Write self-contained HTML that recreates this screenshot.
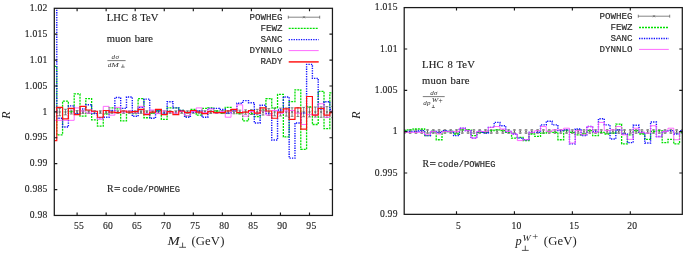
<!DOCTYPE html><html><head><meta charset="utf-8"><title>R ratio plots</title>
<style>
html,body{margin:0;padding:0;background:#fff;}
body{width:685px;height:258px;overflow:hidden;position:relative;font-family:"Liberation Serif",serif;}
svg{position:absolute;left:0;top:0;will-change:transform;}
text{font-family:"Liberation Serif",serif;fill:#222;}
.tk{font-size:9.6px;letter-spacing:0.25px;stroke:#222;stroke-width:0.13px;}
.mono{font-family:"Liberation Mono",monospace;font-size:9.2px;font-weight:normal;fill:#2a2a2a;stroke:#2a2a2a;stroke-width:0.16px;}
.lab{font-size:10.6px;letter-spacing:0.05px;word-spacing:0.8px;stroke:#222;stroke-width:0.15px;}
.ax{font-size:12.4px;}
.it{font-style:italic;}
.fr{font-size:7px;letter-spacing:0.35px;fill:#333;}
</style></head><body>
<svg width="685" height="258" viewBox="0 0 685 258">
<rect x="0" y="0" width="685" height="258" fill="#fff"/>
<defs>
<clipPath id="cl"><rect x="54.30" y="8.30" width="278.15" height="207.15"/></clipPath>
<clipPath id="cr"><rect x="404.20" y="7.60" width="278.10" height="206.75"/></clipPath>
</defs>
<g clip-path="url(#cl)" fill="none" stroke-linejoin="miter">
<path d="M53.86 107.39 V116.71 M52.46 107.39 h2.80 M52.46 116.71 h2.80 M59.67 108.37 V115.73 M58.27 108.37 h2.80 M58.27 115.73 h2.80 M65.48 109.25 V114.85 M64.08 109.25 h2.80 M64.08 114.85 h2.80 M71.29 110.08 V114.02 M69.89 110.08 h2.80 M69.89 114.02 h2.80 M77.10 110.50 V113.60 M75.70 110.50 h2.80 M75.70 113.60 h2.80 M82.91 110.65 V113.45 M81.51 110.65 h2.80 M81.51 113.45 h2.80 M88.72 110.69 V113.41 M87.32 110.69 h2.80 M87.32 113.41 h2.80 M94.53 110.72 V113.38 M93.13 110.72 h2.80 M93.13 113.38 h2.80 M100.34 110.75 V113.34 M98.94 110.75 h2.80 M98.94 113.34 h2.80 M106.15 110.76 V113.34 M104.75 110.76 h2.80 M104.75 113.34 h2.80 M111.96 110.76 V113.34 M110.56 110.76 h2.80 M110.56 113.34 h2.80 M117.77 110.76 V113.34 M116.37 110.76 h2.80 M116.37 113.34 h2.80 M123.58 110.77 V113.33 M122.18 110.77 h2.80 M122.18 113.33 h2.80 M129.39 110.77 V113.33 M127.99 110.77 h2.80 M127.99 113.33 h2.80 M135.20 110.77 V113.33 M133.80 110.77 h2.80 M133.80 113.33 h2.80 M141.01 110.78 V113.32 M139.61 110.78 h2.80 M139.61 113.32 h2.80 M146.82 110.78 V113.32 M145.42 110.78 h2.80 M145.42 113.32 h2.80 M152.63 110.78 V113.32 M151.23 110.78 h2.80 M151.23 113.32 h2.80 M158.44 110.79 V113.31 M157.04 110.79 h2.80 M157.04 113.31 h2.80 M164.25 110.79 V113.31 M162.85 110.79 h2.80 M162.85 113.31 h2.80 M170.06 110.79 V113.31 M168.66 110.79 h2.80 M168.66 113.31 h2.80 M175.87 110.80 V113.30 M174.47 110.80 h2.80 M174.47 113.30 h2.80 M181.68 110.80 V113.30 M180.28 110.80 h2.80 M180.28 113.30 h2.80 M187.49 110.80 V113.30 M186.09 110.80 h2.80 M186.09 113.30 h2.80 M193.30 110.81 V113.29 M191.90 110.81 h2.80 M191.90 113.29 h2.80 M199.11 110.77 V113.33 M197.71 110.77 h2.80 M197.71 113.33 h2.80 M204.92 110.73 V113.37 M203.52 110.73 h2.80 M203.52 113.37 h2.80 M210.73 110.69 V113.41 M209.33 110.69 h2.80 M209.33 113.41 h2.80 M216.54 110.65 V113.45 M215.14 110.65 h2.80 M215.14 113.45 h2.80 M222.35 110.57 V113.53 M220.95 110.57 h2.80 M220.95 113.53 h2.80 M228.16 110.50 V113.60 M226.76 110.50 h2.80 M226.76 113.60 h2.80 M233.97 110.31 V113.79 M232.57 110.31 h2.80 M232.57 113.79 h2.80 M239.78 110.13 V113.97 M238.38 110.13 h2.80 M238.38 113.97 h2.80 M245.59 109.87 V114.23 M244.19 109.87 h2.80 M244.19 114.23 h2.80 M251.40 109.62 V114.48 M250.00 109.62 h2.80 M250.00 114.48 h2.80 M257.21 109.33 V114.77 M255.81 109.33 h2.80 M255.81 114.77 h2.80 M263.02 109.05 V115.05 M261.62 109.05 h2.80 M261.62 115.05 h2.80 M268.83 108.66 V115.44 M267.43 108.66 h2.80 M267.43 115.44 h2.80 M274.64 108.27 V115.83 M273.24 108.27 h2.80 M273.24 115.83 h2.80 M280.45 108.11 V115.99 M279.05 108.11 h2.80 M279.05 115.99 h2.80 M286.26 107.96 V116.14 M284.86 107.96 h2.80 M284.86 116.14 h2.80 M292.07 107.77 V116.33 M290.67 107.77 h2.80 M290.67 116.33 h2.80 M297.88 107.58 V116.52 M296.48 107.58 h2.80 M296.48 116.52 h2.80 M303.69 107.39 V116.71 M302.29 107.39 h2.80 M302.29 116.71 h2.80 M309.50 107.19 V116.91 M308.10 107.19 h2.80 M308.10 116.91 h2.80 M315.31 107.00 V117.10 M313.91 107.00 h2.80 M313.91 117.10 h2.80 M321.12 106.81 V117.29 M319.72 106.81 h2.80 M319.72 117.29 h2.80 M326.93 106.61 V117.49 M325.53 106.61 h2.80 M325.53 117.49 h2.80 M332.74 106.46 V117.64 M331.34 106.46 h2.80 M331.34 117.64 h2.80 " stroke="#505050" stroke-width="0.7"/>
<path d="M52.76 110.95 l2.20 2.20 M52.76 113.15 l2.20 -2.20 M58.57 110.95 l2.20 2.20 M58.57 113.15 l2.20 -2.20 M64.38 110.95 l2.20 2.20 M64.38 113.15 l2.20 -2.20 M70.19 110.95 l2.20 2.20 M70.19 113.15 l2.20 -2.20 M76.00 110.95 l2.20 2.20 M76.00 113.15 l2.20 -2.20 M81.81 110.95 l2.20 2.20 M81.81 113.15 l2.20 -2.20 M87.62 110.95 l2.20 2.20 M87.62 113.15 l2.20 -2.20 M93.43 110.95 l2.20 2.20 M93.43 113.15 l2.20 -2.20 M99.24 110.95 l2.20 2.20 M99.24 113.15 l2.20 -2.20 M105.05 110.95 l2.20 2.20 M105.05 113.15 l2.20 -2.20 M110.86 110.95 l2.20 2.20 M110.86 113.15 l2.20 -2.20 M116.67 110.95 l2.20 2.20 M116.67 113.15 l2.20 -2.20 M122.48 110.95 l2.20 2.20 M122.48 113.15 l2.20 -2.20 M128.29 110.95 l2.20 2.20 M128.29 113.15 l2.20 -2.20 M134.10 110.95 l2.20 2.20 M134.10 113.15 l2.20 -2.20 M139.91 110.95 l2.20 2.20 M139.91 113.15 l2.20 -2.20 M145.72 110.95 l2.20 2.20 M145.72 113.15 l2.20 -2.20 M151.53 110.95 l2.20 2.20 M151.53 113.15 l2.20 -2.20 M157.34 110.95 l2.20 2.20 M157.34 113.15 l2.20 -2.20 M163.15 110.95 l2.20 2.20 M163.15 113.15 l2.20 -2.20 M168.96 110.95 l2.20 2.20 M168.96 113.15 l2.20 -2.20 M174.77 110.95 l2.20 2.20 M174.77 113.15 l2.20 -2.20 M180.58 110.95 l2.20 2.20 M180.58 113.15 l2.20 -2.20 M186.39 110.95 l2.20 2.20 M186.39 113.15 l2.20 -2.20 M192.20 110.95 l2.20 2.20 M192.20 113.15 l2.20 -2.20 M198.01 110.95 l2.20 2.20 M198.01 113.15 l2.20 -2.20 M203.82 110.95 l2.20 2.20 M203.82 113.15 l2.20 -2.20 M209.63 110.95 l2.20 2.20 M209.63 113.15 l2.20 -2.20 M215.44 110.95 l2.20 2.20 M215.44 113.15 l2.20 -2.20 M221.25 110.95 l2.20 2.20 M221.25 113.15 l2.20 -2.20 M227.06 110.95 l2.20 2.20 M227.06 113.15 l2.20 -2.20 M232.87 110.95 l2.20 2.20 M232.87 113.15 l2.20 -2.20 M238.68 110.95 l2.20 2.20 M238.68 113.15 l2.20 -2.20 M244.49 110.95 l2.20 2.20 M244.49 113.15 l2.20 -2.20 M250.30 110.95 l2.20 2.20 M250.30 113.15 l2.20 -2.20 M256.11 110.95 l2.20 2.20 M256.11 113.15 l2.20 -2.20 M261.92 110.95 l2.20 2.20 M261.92 113.15 l2.20 -2.20 M267.73 110.95 l2.20 2.20 M267.73 113.15 l2.20 -2.20 M273.54 110.95 l2.20 2.20 M273.54 113.15 l2.20 -2.20 M279.35 110.95 l2.20 2.20 M279.35 113.15 l2.20 -2.20 M285.16 110.95 l2.20 2.20 M285.16 113.15 l2.20 -2.20 M290.97 110.95 l2.20 2.20 M290.97 113.15 l2.20 -2.20 M296.78 110.95 l2.20 2.20 M296.78 113.15 l2.20 -2.20 M302.59 110.95 l2.20 2.20 M302.59 113.15 l2.20 -2.20 M308.40 110.95 l2.20 2.20 M308.40 113.15 l2.20 -2.20 M314.21 110.95 l2.20 2.20 M314.21 113.15 l2.20 -2.20 M320.02 110.95 l2.20 2.20 M320.02 113.15 l2.20 -2.20 M325.83 110.95 l2.20 2.20 M325.83 113.15 l2.20 -2.20 M331.64 110.95 l2.20 2.20 M331.64 113.15 l2.20 -2.20 " stroke="#505050" stroke-width="0.6"/>
<path d="M50.95 66.47 L56.77 66.47 L56.77 134.84 L62.58 134.84 L62.58 101.17 L68.38 101.17 L68.38 111.53 L74.19 111.53 L74.19 93.92 L80.00 93.92 L80.00 116.19 L85.81 116.19 L85.81 98.58 L91.62 98.58 L91.62 119.82 L97.44 119.82 L97.44 126.04 L103.25 126.04 L103.25 114.12 L109.05 114.12 L109.05 107.91 L114.86 107.91 L114.86 108.94 L120.67 108.94 L120.67 120.86 L126.48 120.86 L126.48 111.53 L132.29 111.53 L132.29 113.60 L138.10 113.60 L138.10 98.58 L143.91 98.58 L143.91 117.75 L149.72 117.75 L149.72 113.09 L155.53 113.09 L155.53 110.50 L161.34 110.50 L161.34 119.30 L167.15 119.30 L167.15 107.91 L172.96 107.91 L172.96 107.91 L178.77 107.91 L178.77 110.50 L184.58 110.50 L184.58 116.19 L190.39 116.19 L190.39 109.46 L196.20 109.46 L196.20 115.16 L202.01 115.16 L202.01 108.42 L207.82 108.42 L207.82 107.91 L213.63 107.91 L213.63 111.01 L219.44 111.01 L219.44 113.09 L225.25 113.09 L225.25 107.39 L231.06 107.39 L231.06 111.01 L236.88 111.01 L236.88 113.60 L242.69 113.60 L242.69 120.86 L248.50 120.86 L248.50 113.60 L254.31 113.60 L254.31 116.71 L260.12 116.71 L260.12 110.50 L265.93 110.50 L265.93 98.58 L271.73 98.58 L271.73 107.91 L277.54 107.91 L277.54 94.44 L283.35 94.44 L283.35 136.91 L289.16 136.91 L289.16 101.69 L294.97 101.69 L294.97 89.78 L300.78 89.78 L300.78 149.35 L306.59 149.35 L306.59 106.87 L312.40 106.87 L312.40 124.48 L318.21 124.48 L318.21 91.33 L324.02 91.33 L324.02 128.63 L329.83 128.63 L329.83 92.88 L335.64 92.88 " stroke="#00e000" stroke-width="1.3" stroke-dasharray="2.0 1.0"/>
<path d="M50.95 -43.35 L56.77 -43.35 L56.77 118.27 L62.58 118.27 L62.58 127.07 L68.38 127.07 L68.38 105.83 L74.19 105.83 L74.19 113.60 L80.00 113.60 L80.00 108.94 L85.81 108.94 L85.81 104.80 L91.62 104.80 L91.62 113.60 L97.44 113.60 L97.44 117.75 L103.25 117.75 L103.25 117.23 L109.05 117.23 L109.05 110.50 L114.86 110.50 L114.86 97.55 L120.67 97.55 L120.67 108.42 L126.48 108.42 L126.48 97.03 L132.29 97.03 L132.29 116.19 L138.10 116.19 L138.10 107.39 L143.91 107.39 L143.91 99.10 L149.72 99.10 L149.72 118.27 L155.53 118.27 L155.53 111.01 L161.34 111.01 L161.34 113.09 L167.15 113.09 L167.15 101.69 L172.96 101.69 L172.96 107.91 L178.77 107.91 L178.77 110.50 L184.58 110.50 L184.58 117.23 L190.39 117.23 L190.39 112.05 L196.20 112.05 L196.20 111.01 L202.01 111.01 L202.01 117.23 L207.82 117.23 L207.82 108.42 L213.63 108.42 L213.63 108.42 L219.44 108.42 L219.44 109.46 L225.25 109.46 L225.25 113.09 L231.06 113.09 L231.06 110.50 L236.88 110.50 L236.88 103.24 L242.69 103.24 L242.69 100.65 L248.50 100.65 L248.50 102.73 L254.31 102.73 L254.31 122.93 L260.12 122.93 L260.12 105.32 L265.93 105.32 L265.93 113.60 L271.73 113.60 L271.73 140.02 L277.54 140.02 L277.54 109.98 L283.35 109.98 L283.35 97.03 L289.16 97.03 L289.16 158.15 L294.97 158.15 L294.97 122.93 L300.78 122.93 L300.78 113.09 L306.59 113.09 L306.59 64.39 L312.40 64.39 L312.40 78.38 L318.21 78.38 L318.21 108.94 L324.02 108.94 L324.02 101.69 L329.83 101.69 L329.83 109.46 L335.64 109.46 " stroke="#1010ff" stroke-width="1.4" stroke-dasharray="1.3 1.15"/>
<path d="M50.95 120.34 L56.77 120.34 L56.77 120.34 L62.58 120.34 L62.58 120.34 L68.38 120.34 L68.38 120.34 L74.19 120.34 L74.19 107.91 L80.00 107.91 L80.00 111.01 L85.81 111.01 L85.81 113.09 L91.62 113.09 L91.62 111.53 L97.44 111.53 L97.44 119.30 L103.25 119.30 L103.25 106.35 L109.05 106.35 L109.05 115.16 L114.86 115.16 L114.86 107.39 L120.67 107.39 L120.67 112.05 L126.48 112.05 L126.48 111.01 L132.29 111.01 L132.29 113.09 L138.10 113.09 L138.10 106.35 L143.91 106.35 L143.91 113.60 L149.72 113.60 L149.72 109.98 L155.53 109.98 L155.53 113.60 L161.34 113.60 L161.34 111.01 L167.15 111.01 L167.15 112.05 L172.96 112.05 L172.96 113.09 L178.77 113.09 L178.77 111.53 L184.58 111.53 L184.58 115.68 L190.39 115.68 L190.39 111.53 L196.20 111.53 L196.20 107.91 L202.01 107.91 L202.01 112.57 L207.82 112.57 L207.82 108.94 L213.63 108.94 L213.63 113.09 L219.44 113.09 L219.44 111.53 L225.25 111.53 L225.25 117.23 L231.06 117.23 L231.06 111.01 L236.88 111.01 L236.88 104.80 L242.69 104.80 L242.69 116.19 L248.50 116.19 L248.50 111.53 L254.31 111.53 L254.31 113.09 L260.12 113.09 L260.12 111.01 L265.93 111.01 L265.93 115.16 L271.73 115.16 L271.73 110.50 L277.54 110.50 L277.54 113.60 L283.35 113.60 L283.35 111.01 L289.16 111.01 L289.16 110.50 L294.97 110.50 L294.97 113.09 L300.78 113.09 L300.78 124.48 L306.59 124.48 L306.59 114.64 L312.40 114.64 L312.40 114.64 L318.21 114.64 L318.21 103.76 L324.02 103.76 L324.02 117.23 L329.83 117.23 L329.83 111.01 L335.64 111.01 " stroke="#ff50ff" stroke-width="0.85"/>
<path d="M50.95 140.54 L56.77 140.54 L56.77 107.39 L62.58 107.39 L62.58 118.78 L68.38 118.78 L68.38 108.42 L74.19 108.42 L74.19 114.64 L80.00 114.64 L80.00 106.35 L85.81 106.35 L85.81 109.98 L91.62 109.98 L91.62 111.27 L97.44 111.27 L97.44 117.23 L103.25 117.23 L103.25 110.50 L109.05 110.50 L109.05 112.05 L114.86 112.05 L114.86 112.57 L120.67 112.57 L120.67 111.01 L126.48 111.01 L126.48 112.05 L132.29 112.05 L132.29 111.53 L138.10 111.53 L138.10 109.46 L143.91 109.46 L143.91 114.64 L149.72 114.64 L149.72 112.05 L155.53 112.05 L155.53 109.46 L161.34 109.46 L161.34 114.64 L167.15 114.64 L167.15 111.53 L172.96 111.53 L172.96 114.64 L178.77 114.64 L178.77 111.01 L184.58 111.01 L184.58 112.57 L190.39 112.57 L190.39 110.50 L196.20 110.50 L196.20 112.05 L202.01 112.05 L202.01 113.60 L207.82 113.60 L207.82 111.53 L213.63 111.53 L213.63 112.57 L219.44 112.57 L219.44 112.57 L225.25 112.57 L225.25 111.01 L231.06 111.01 L231.06 109.46 L236.88 109.46 L236.88 112.57 L242.69 112.57 L242.69 112.05 L248.50 112.05 L248.50 110.50 L254.31 110.50 L254.31 113.09 L260.12 113.09 L260.12 107.91 L265.93 107.91 L265.93 111.01 L271.73 111.01 L271.73 118.27 L277.54 118.27 L277.54 112.05 L283.35 112.05 L283.35 108.94 L289.16 108.94 L289.16 119.30 L294.97 119.30 L294.97 107.91 L300.78 107.91 L300.78 129.14 L306.59 129.14 L306.59 96.51 L312.40 96.51 L312.40 115.16 L318.21 115.16 L318.21 108.42 L324.02 108.42 L324.02 115.16 L329.83 115.16 L329.83 112.57 L335.64 112.57 " stroke="#ff1010" stroke-width="1.2"/>
</g>
<g clip-path="url(#cr)" fill="none" stroke-linejoin="miter">
<path d="M404.36 129.68 V133.32 M403.06 129.68 h2.60 M403.06 133.32 h2.60 M410.15 129.68 V133.32 M408.85 129.68 h2.60 M408.85 133.32 h2.60 M415.95 129.68 V133.32 M414.65 129.68 h2.60 M414.65 133.32 h2.60 M421.74 129.68 V133.32 M420.44 129.68 h2.60 M420.44 133.32 h2.60 M427.53 129.68 V133.32 M426.23 129.68 h2.60 M426.23 133.32 h2.60 M433.33 129.68 V133.32 M432.03 129.68 h2.60 M432.03 133.32 h2.60 M439.12 129.68 V133.32 M437.82 129.68 h2.60 M437.82 133.32 h2.60 M444.91 129.68 V133.32 M443.61 129.68 h2.60 M443.61 133.32 h2.60 M450.71 129.68 V133.32 M449.41 129.68 h2.60 M449.41 133.32 h2.60 M456.50 129.68 V133.32 M455.20 129.68 h2.60 M455.20 133.32 h2.60 M462.30 129.68 V133.32 M461.00 129.68 h2.60 M461.00 133.32 h2.60 M468.09 129.68 V133.32 M466.79 129.68 h2.60 M466.79 133.32 h2.60 M473.88 129.68 V133.32 M472.58 129.68 h2.60 M472.58 133.32 h2.60 M479.68 129.68 V133.32 M478.38 129.68 h2.60 M478.38 133.32 h2.60 M485.47 129.68 V133.32 M484.17 129.68 h2.60 M484.17 133.32 h2.60 M491.26 129.68 V133.32 M489.96 129.68 h2.60 M489.96 133.32 h2.60 M497.06 129.68 V133.32 M495.76 129.68 h2.60 M495.76 133.32 h2.60 M502.85 129.68 V133.32 M501.55 129.68 h2.60 M501.55 133.32 h2.60 M508.64 129.68 V133.32 M507.34 129.68 h2.60 M507.34 133.32 h2.60 M514.44 129.68 V133.32 M513.14 129.68 h2.60 M513.14 133.32 h2.60 M520.23 129.68 V133.32 M518.93 129.68 h2.60 M518.93 133.32 h2.60 M526.02 129.68 V133.32 M524.72 129.68 h2.60 M524.72 133.32 h2.60 M531.82 129.68 V133.32 M530.52 129.68 h2.60 M530.52 133.32 h2.60 M537.61 129.68 V133.32 M536.31 129.68 h2.60 M536.31 133.32 h2.60 M543.40 129.68 V133.32 M542.10 129.68 h2.60 M542.10 133.32 h2.60 M549.20 129.68 V133.32 M547.90 129.68 h2.60 M547.90 133.32 h2.60 M554.99 129.68 V133.32 M553.69 129.68 h2.60 M553.69 133.32 h2.60 M560.78 129.68 V133.32 M559.48 129.68 h2.60 M559.48 133.32 h2.60 M566.58 129.68 V133.32 M565.28 129.68 h2.60 M565.28 133.32 h2.60 M572.37 129.68 V133.32 M571.07 129.68 h2.60 M571.07 133.32 h2.60 M578.16 129.68 V133.32 M576.87 129.68 h2.60 M576.87 133.32 h2.60 M583.96 129.68 V133.32 M582.66 129.68 h2.60 M582.66 133.32 h2.60 M589.75 129.68 V133.32 M588.45 129.68 h2.60 M588.45 133.32 h2.60 M595.55 129.68 V133.32 M594.25 129.68 h2.60 M594.25 133.32 h2.60 M601.34 129.68 V133.32 M600.04 129.68 h2.60 M600.04 133.32 h2.60 M607.13 129.68 V133.32 M605.83 129.68 h2.60 M605.83 133.32 h2.60 M612.93 129.68 V133.32 M611.63 129.68 h2.60 M611.63 133.32 h2.60 M618.72 129.68 V133.32 M617.42 129.68 h2.60 M617.42 133.32 h2.60 M624.51 129.68 V133.32 M623.21 129.68 h2.60 M623.21 133.32 h2.60 M630.31 129.68 V133.32 M629.01 129.68 h2.60 M629.01 133.32 h2.60 M636.10 129.68 V133.32 M634.80 129.68 h2.60 M634.80 133.32 h2.60 M641.89 129.68 V133.32 M640.59 129.68 h2.60 M640.59 133.32 h2.60 M647.69 129.68 V133.32 M646.39 129.68 h2.60 M646.39 133.32 h2.60 M653.48 129.68 V133.32 M652.18 129.68 h2.60 M652.18 133.32 h2.60 M659.27 129.68 V133.32 M657.97 129.68 h2.60 M657.97 133.32 h2.60 M665.07 129.68 V133.32 M663.77 129.68 h2.60 M663.77 133.32 h2.60 M670.86 129.68 V133.32 M669.56 129.68 h2.60 M669.56 133.32 h2.60 M676.65 129.68 V133.32 M675.35 129.68 h2.60 M675.35 133.32 h2.60 M682.45 129.68 V133.32 M681.15 129.68 h2.60 M681.15 133.32 h2.60 " stroke="#505050" stroke-width="0.7"/>
<path d="M403.26 130.40 l2.20 2.20 M403.26 132.60 l2.20 -2.20 M409.05 130.40 l2.20 2.20 M409.05 132.60 l2.20 -2.20 M414.85 130.40 l2.20 2.20 M414.85 132.60 l2.20 -2.20 M420.64 130.40 l2.20 2.20 M420.64 132.60 l2.20 -2.20 M426.43 130.40 l2.20 2.20 M426.43 132.60 l2.20 -2.20 M432.23 130.40 l2.20 2.20 M432.23 132.60 l2.20 -2.20 M438.02 130.40 l2.20 2.20 M438.02 132.60 l2.20 -2.20 M443.81 130.40 l2.20 2.20 M443.81 132.60 l2.20 -2.20 M449.61 130.40 l2.20 2.20 M449.61 132.60 l2.20 -2.20 M455.40 130.40 l2.20 2.20 M455.40 132.60 l2.20 -2.20 M461.19 130.40 l2.20 2.20 M461.19 132.60 l2.20 -2.20 M466.99 130.40 l2.20 2.20 M466.99 132.60 l2.20 -2.20 M472.78 130.40 l2.20 2.20 M472.78 132.60 l2.20 -2.20 M478.58 130.40 l2.20 2.20 M478.58 132.60 l2.20 -2.20 M484.37 130.40 l2.20 2.20 M484.37 132.60 l2.20 -2.20 M490.16 130.40 l2.20 2.20 M490.16 132.60 l2.20 -2.20 M495.96 130.40 l2.20 2.20 M495.96 132.60 l2.20 -2.20 M501.75 130.40 l2.20 2.20 M501.75 132.60 l2.20 -2.20 M507.54 130.40 l2.20 2.20 M507.54 132.60 l2.20 -2.20 M513.34 130.40 l2.20 2.20 M513.34 132.60 l2.20 -2.20 M519.13 130.40 l2.20 2.20 M519.13 132.60 l2.20 -2.20 M524.92 130.40 l2.20 2.20 M524.92 132.60 l2.20 -2.20 M530.72 130.40 l2.20 2.20 M530.72 132.60 l2.20 -2.20 M536.51 130.40 l2.20 2.20 M536.51 132.60 l2.20 -2.20 M542.30 130.40 l2.20 2.20 M542.30 132.60 l2.20 -2.20 M548.10 130.40 l2.20 2.20 M548.10 132.60 l2.20 -2.20 M553.89 130.40 l2.20 2.20 M553.89 132.60 l2.20 -2.20 M559.68 130.40 l2.20 2.20 M559.68 132.60 l2.20 -2.20 M565.48 130.40 l2.20 2.20 M565.48 132.60 l2.20 -2.20 M571.27 130.40 l2.20 2.20 M571.27 132.60 l2.20 -2.20 M577.06 130.40 l2.20 2.20 M577.06 132.60 l2.20 -2.20 M582.86 130.40 l2.20 2.20 M582.86 132.60 l2.20 -2.20 M588.65 130.40 l2.20 2.20 M588.65 132.60 l2.20 -2.20 M594.45 130.40 l2.20 2.20 M594.45 132.60 l2.20 -2.20 M600.24 130.40 l2.20 2.20 M600.24 132.60 l2.20 -2.20 M606.03 130.40 l2.20 2.20 M606.03 132.60 l2.20 -2.20 M611.83 130.40 l2.20 2.20 M611.83 132.60 l2.20 -2.20 M617.62 130.40 l2.20 2.20 M617.62 132.60 l2.20 -2.20 M623.41 130.40 l2.20 2.20 M623.41 132.60 l2.20 -2.20 M629.21 130.40 l2.20 2.20 M629.21 132.60 l2.20 -2.20 M635.00 130.40 l2.20 2.20 M635.00 132.60 l2.20 -2.20 M640.79 130.40 l2.20 2.20 M640.79 132.60 l2.20 -2.20 M646.59 130.40 l2.20 2.20 M646.59 132.60 l2.20 -2.20 M652.38 130.40 l2.20 2.20 M652.38 132.60 l2.20 -2.20 M658.17 130.40 l2.20 2.20 M658.17 132.60 l2.20 -2.20 M663.97 130.40 l2.20 2.20 M663.97 132.60 l2.20 -2.20 M669.76 130.40 l2.20 2.20 M669.76 132.60 l2.20 -2.20 M675.55 130.40 l2.20 2.20 M675.55 132.60 l2.20 -2.20 M681.35 130.40 l2.20 2.20 M681.35 132.60 l2.20 -2.20 " stroke="#505050" stroke-width="0.6"/>
<path d="M401.46 130.67 L407.26 130.67 L407.26 129.85 L413.05 129.85 L413.05 129.02 L418.84 129.02 L418.84 129.02 L424.64 129.02 L424.64 135.63 L430.43 135.63 L430.43 131.50 L436.22 131.50 L436.22 139.75 L442.02 139.75 L442.02 131.50 L447.81 131.50 L447.81 131.50 L453.60 131.50 L453.60 133.98 L459.40 133.98 L459.40 129.85 L465.19 129.85 L465.19 129.85 L470.99 129.85 L470.99 135.63 L476.78 135.63 L476.78 132.33 L482.57 132.33 L482.57 132.33 L488.37 132.33 L488.37 130.67 L494.16 130.67 L494.16 129.85 L499.95 129.85 L499.95 130.67 L505.75 130.67 L505.75 132.33 L511.54 132.33 L511.54 138.10 L517.33 138.10 L517.33 137.28 L523.13 137.28 L523.13 140.58 L528.92 140.58 L528.92 133.98 L534.71 133.98 L534.71 136.45 L540.51 136.45 L540.51 133.15 L546.30 133.15 L546.30 131.50 L552.09 131.50 L552.09 132.33 L557.89 132.33 L557.89 139.75 L563.68 139.75 L563.68 130.67 L569.47 130.67 L569.47 132.33 L575.27 132.33 L575.27 134.80 L581.06 134.80 L581.06 133.98 L586.86 133.98 L586.86 130.67 L592.65 130.67 L592.65 135.63 L598.44 135.63 L598.44 132.33 L604.24 132.33 L604.24 133.98 L610.03 133.98 L610.03 133.15 L615.82 133.15 L615.82 124.07 L621.62 124.07 L621.62 143.88 L627.41 143.88 L627.41 134.80 L633.20 134.80 L633.20 130.67 L639.00 130.67 L639.00 133.98 L644.79 133.98 L644.79 139.34 L650.58 139.34 L650.58 131.50 L656.38 131.50 L656.38 130.67 L662.17 130.67 L662.17 142.64 L667.96 142.64 L667.96 139.34 L673.76 139.34 L673.76 143.88 L679.55 143.88 L679.55 132.33 L685.34 132.33 " stroke="#00e000" stroke-width="1.3" stroke-dasharray="2.0 1.0"/>
<path d="M401.46 131.50 L407.26 131.50 L407.26 131.50 L413.05 131.50 L413.05 131.50 L418.84 131.50 L418.84 130.67 L424.64 130.67 L424.64 135.63 L430.43 135.63 L430.43 131.50 L436.22 131.50 L436.22 132.33 L442.02 132.33 L442.02 130.67 L447.81 130.67 L447.81 131.50 L453.60 131.50 L453.60 135.63 L459.40 135.63 L459.40 128.20 L465.19 128.20 L465.19 130.67 L470.99 130.67 L470.99 138.10 L476.78 138.10 L476.78 131.50 L482.57 131.50 L482.57 133.15 L488.37 133.15 L488.37 127.37 L494.16 127.37 L494.16 122.42 L499.95 122.42 L499.95 125.72 L505.75 125.72 L505.75 131.50 L511.54 131.50 L511.54 133.98 L517.33 133.98 L517.33 138.10 L523.13 138.10 L523.13 139.75 L528.92 139.75 L528.92 132.33 L534.71 132.33 L534.71 132.33 L540.51 132.33 L540.51 124.90 L546.30 124.90 L546.30 121.19 L552.09 121.19 L552.09 124.90 L557.89 124.90 L557.89 130.67 L563.68 130.67 L563.68 129.85 L569.47 129.85 L569.47 143.88 L575.27 143.88 L575.27 129.02 L581.06 129.02 L581.06 135.63 L586.86 135.63 L586.86 126.55 L592.65 126.55 L592.65 131.50 L598.44 131.50 L598.44 118.71 L604.24 118.71 L604.24 124.90 L610.03 124.90 L610.03 138.93 L615.82 138.93 L615.82 129.85 L621.62 129.85 L621.62 133.98 L627.41 133.98 L627.41 142.64 L633.20 142.64 L633.20 125.31 L639.00 125.31 L639.00 132.33 L644.79 132.33 L644.79 143.05 L650.58 143.05 L650.58 122.01 L656.38 122.01 L656.38 136.45 L662.17 136.45 L662.17 131.50 L667.96 131.50 L667.96 130.67 L673.76 130.67 L673.76 133.98 L679.55 133.98 L679.55 130.67 L685.34 130.67 " stroke="#1010ff" stroke-width="1.4" stroke-dasharray="1.3 1.15"/>
<path d="M401.46 132.33 L407.26 132.33 L407.26 132.33 L413.05 132.33 L413.05 132.33 L418.84 132.33 L418.84 132.33 L424.64 132.33 L424.64 134.80 L430.43 134.80 L430.43 131.50 L436.22 131.50 L436.22 133.98 L442.02 133.98 L442.02 131.50 L447.81 131.50 L447.81 131.50 L453.60 131.50 L453.60 131.50 L459.40 131.50 L459.40 128.20 L465.19 128.20 L465.19 130.67 L470.99 130.67 L470.99 138.10 L476.78 138.10 L476.78 131.50 L482.57 131.50 L482.57 131.50 L488.37 131.50 L488.37 127.37 L494.16 127.37 L494.16 126.55 L499.95 126.55 L499.95 129.02 L505.75 129.02 L505.75 131.50 L511.54 131.50 L511.54 133.98 L517.33 133.98 L517.33 140.58 L523.13 140.58 L523.13 139.75 L528.92 139.75 L528.92 132.33 L534.71 132.33 L534.71 130.67 L540.51 130.67 L540.51 126.55 L546.30 126.55 L546.30 131.50 L552.09 131.50 L552.09 129.85 L557.89 129.85 L557.89 129.85 L563.68 129.85 L563.68 128.20 L569.47 128.20 L569.47 143.05 L575.27 143.05 L575.27 130.67 L581.06 130.67 L581.06 134.80 L586.86 134.80 L586.86 126.55 L592.65 126.55 L592.65 132.33 L598.44 132.33 L598.44 122.42 L604.24 122.42 L604.24 130.67 L610.03 130.67 L610.03 129.85 L615.82 129.85 L615.82 126.55 L621.62 126.55 L621.62 134.80 L627.41 134.80 L627.41 139.34 L633.20 139.34 L633.20 128.20 L639.00 128.20 L639.00 132.33 L644.79 132.33 L644.79 133.15 L650.58 133.15 L650.58 125.72 L656.38 125.72 L656.38 136.86 L662.17 136.86 L662.17 131.50 L667.96 131.50 L667.96 128.20 L673.76 128.20 L673.76 139.75 L679.55 139.75 L679.55 131.50 L685.34 131.50 " stroke="#ff50ff" stroke-width="0.85"/>
</g>
<rect x="54.30" y="8.30" width="278.15" height="207.15" fill="none" stroke="#1a1a1a" stroke-width="1.25"/>
<rect x="404.20" y="7.60" width="278.10" height="206.75" fill="none" stroke="#1a1a1a" stroke-width="1.25"/>
<path d="M77.10 215.45 v-3.00 M77.10 8.30 v3.00 M106.15 215.45 v-3.00 M106.15 8.30 v3.00 M135.20 215.45 v-3.00 M135.20 8.30 v3.00 M164.25 215.45 v-3.00 M164.25 8.30 v3.00 M193.30 215.45 v-3.00 M193.30 8.30 v3.00 M222.35 215.45 v-3.00 M222.35 8.30 v3.00 M251.40 215.45 v-3.00 M251.40 8.30 v3.00 M280.45 215.45 v-3.00 M280.45 8.30 v3.00 M309.50 215.45 v-3.00 M309.50 8.30 v3.00 M54.30 34.19 h3.00 M332.45 34.19 h-3.00 M54.30 60.09 h3.00 M332.45 60.09 h-3.00 M54.30 85.98 h3.00 M332.45 85.98 h-3.00 M54.30 111.87 h3.00 M332.45 111.87 h-3.00 M54.30 137.77 h3.00 M332.45 137.77 h-3.00 M54.30 163.66 h3.00 M332.45 163.66 h-3.00 M54.30 189.56 h3.00 M332.45 189.56 h-3.00 " stroke="#1a1a1a" stroke-width="1.15" fill="none"/>
<path d="M456.50 214.35 v-3.00 M456.50 7.60 v3.00 M514.43 214.35 v-3.00 M514.43 7.60 v3.00 M572.37 214.35 v-3.00 M572.37 7.60 v3.00 M630.31 214.35 v-3.00 M630.31 7.60 v3.00 M404.20 48.95 h3.00 M682.30 48.95 h-3.00 M404.20 90.30 h3.00 M682.30 90.30 h-3.00 M404.20 131.65 h3.00 M682.30 131.65 h-3.00 M404.20 173.00 h3.00 M682.30 173.00 h-3.00 " stroke="#1a1a1a" stroke-width="1.15" fill="none"/>
<text class="tk" x="47.6" y="11.00" text-anchor="end">1.02</text>
<text class="tk" x="47.6" y="36.89" text-anchor="end">1.015</text>
<text class="tk" x="47.6" y="62.79" text-anchor="end">1.01</text>
<text class="tk" x="47.6" y="88.68" text-anchor="end">1.005</text>
<text class="tk" x="47.6" y="114.57" text-anchor="end">1</text>
<text class="tk" x="47.6" y="140.47" text-anchor="end">0.995</text>
<text class="tk" x="47.6" y="166.36" text-anchor="end">0.99</text>
<text class="tk" x="47.6" y="192.26" text-anchor="end">0.985</text>
<text class="tk" x="47.6" y="218.15" text-anchor="end">0.98</text>
<text class="tk" x="79.00" y="229.4" text-anchor="middle">55</text>
<text class="tk" x="108.05" y="229.4" text-anchor="middle">60</text>
<text class="tk" x="137.10" y="229.4" text-anchor="middle">65</text>
<text class="tk" x="166.15" y="229.4" text-anchor="middle">70</text>
<text class="tk" x="195.20" y="229.4" text-anchor="middle">75</text>
<text class="tk" x="224.25" y="229.4" text-anchor="middle">80</text>
<text class="tk" x="253.30" y="229.4" text-anchor="middle">85</text>
<text class="tk" x="282.35" y="229.4" text-anchor="middle">90</text>
<text class="tk" x="311.40" y="229.4" text-anchor="middle">95</text>
<text class="tk" x="397.7" y="10.30" text-anchor="end">1.015</text>
<text class="tk" x="397.7" y="51.65" text-anchor="end">1.01</text>
<text class="tk" x="397.7" y="93.00" text-anchor="end">1.005</text>
<text class="tk" x="397.7" y="134.35" text-anchor="end">1</text>
<text class="tk" x="397.7" y="175.70" text-anchor="end">0.995</text>
<text class="tk" x="397.7" y="217.05" text-anchor="end">0.99</text>
<text class="tk" x="458.50" y="229.4" text-anchor="middle">5</text>
<text class="tk" x="516.43" y="229.4" text-anchor="middle">10</text>
<text class="tk" x="574.37" y="229.4" text-anchor="middle">15</text>
<text class="tk" x="632.31" y="229.4" text-anchor="middle">20</text>
<text class="ax it" transform="translate(10.3,119) rotate(-90)">R</text>
<text class="ax it" transform="translate(360.3,119) rotate(-90)">R</text>
<text class="ax it" transform="translate(167.4,245.2) scale(1.18,1)">M</text>
<path d="M179.20 247.30 H186.00 M182.60 247.30 V242.60" stroke="#222" stroke-width="0.75" fill="none"/>
<text class="ax" x="191.4" y="245.2" style="font-size:12.7px;letter-spacing:0.15px">(GeV)</text>
<text class="ax it" x="515.6" y="245.2">p</text>
<path d="M521.90 250.40 H528.70 M525.30 250.40 V245.70" stroke="#222" stroke-width="0.75" fill="none"/>
<text class="ax it" style="font-size:8.6px" transform="translate(522.5,240.8) scale(1.15,1)">W</text>
<text class="ax" style="font-size:10.5px" x="532.3" y="240.3">+</text>
<text class="ax" x="543.8" y="245.2" style="font-size:12.7px;letter-spacing:0.15px">(GeV)</text>
<text class="lab" x="106.8" y="21.2">LHC 8 TeV</text>
<text class="lab" x="106.8" y="41.8">muon bare</text>
<text class="it fr" x="111.6" y="58.8">dσ</text>
<path d="M107.4 60.6 H125.6" stroke="#222" stroke-width="0.6"/>
<text class="it fr" x="107.8" y="66.9">d</text>
<text class="it fr" transform="translate(111.2,66.9) scale(1.3,1)">M</text>
<path d="M121.00 67.10 H124.70 M122.85 67.10 V64.40" stroke="#222" stroke-width="0.60" fill="none"/>
<text x="106.9" y="192.3" class="lab" style="font-size:9.8px">R</text>
<text x="114.0" y="192.6" class="lab" style="font-size:11.5px">=</text>
<text x="122.3" y="192.3" class="mono" style="font-size:8.75px">code/POWHEG</text>
<text class="mono" x="282.60" y="19.95" text-anchor="end">POWHEG</text>
<text class="mono" x="282.60" y="31.15" text-anchor="end">FEWZ</text>
<text class="mono" x="282.60" y="42.35" text-anchor="end">SANC</text>
<text class="mono" x="282.60" y="53.35" text-anchor="end">DYNNLO</text>
<text class="mono" x="282.60" y="64.45" text-anchor="end">RADY</text>
<path d="M288.3 17.2 H319.7 M288.3 15.7 v3 M319.7 15.7 v3" stroke="#505050" stroke-width="0.7" fill="none"/>
<path d="M302.9 16.1 l2.2 2.2 M302.9 18.3 l2.2 -2.2" stroke="#505050" stroke-width="0.6" fill="none"/>
<path d="M288.7 28.4 H318.7" stroke="#00e000" stroke-width="1.3" stroke-dasharray="2.0 1.0"/>
<path d="M288.7 39.6 H318.7" stroke="#1010ff" stroke-width="1.4" stroke-dasharray="1.3 1.15"/>
<path d="M288.7 50.6 H318.7" stroke="#ff50ff" stroke-width="0.85"/>
<path d="M288.7 61.90 H318.7" stroke="#ff1010" stroke-width="1.45"/>
<text class="lab" x="422" y="68.0" style="letter-spacing:0.2px;word-spacing:0.8px">LHC 8 TeV</text>
<text class="lab" x="422" y="84.3" style="letter-spacing:0.2px;word-spacing:0.8px">muon bare</text>
<text class="it fr" x="430.2" y="95.3">dσ</text>
<path d="M422.8 96.6 H444.7" stroke="#222" stroke-width="0.6"/>
<text class="it fr" x="423.2" y="104.6">dp</text>
<path d="M431.80 107.50 H434.80 M433.30 107.50 V104.90" stroke="#222" stroke-width="0.60" fill="none"/>
<text class="it fr" style="font-size:5.4px" transform="translate(431.7,102.4) scale(1.45,1)">W</text>
<text class="fr" style="font-size:7.4px" x="438.6" y="102.9">+</text>
<text x="422.4" y="167.3" class="lab" style="font-size:9.8px">R</text>
<text x="429.5" y="167.6" class="lab" style="font-size:11.5px">=</text>
<text x="437.8" y="167.3" class="mono" style="font-size:8.75px">code/POWHEG</text>
<text class="mono" x="632.60" y="18.95" text-anchor="end">POWHEG</text>
<text class="mono" x="632.60" y="30.25" text-anchor="end">FEWZ</text>
<text class="mono" x="632.60" y="41.25" text-anchor="end">SANC</text>
<text class="mono" x="632.60" y="52.15" text-anchor="end">DYNNLO</text>
<path d="M638.3 16.2 H669.7 M638.3 14.7 v3 M669.7 14.7 v3" stroke="#505050" stroke-width="0.7" fill="none"/>
<path d="M652.9 15.1 l2.2 2.2 M652.9 17.3 l2.2 -2.2" stroke="#505050" stroke-width="0.6" fill="none"/>
<path d="M639.0 27.5 H668.8" stroke="#00e000" stroke-width="1.3" stroke-dasharray="2.0 1.0"/>
<path d="M639.0 38.5 H668.8" stroke="#1010ff" stroke-width="1.4" stroke-dasharray="1.3 1.15"/>
<path d="M639.0 49.4 H668.8" stroke="#ff50ff" stroke-width="0.85"/>
</svg></body></html>
